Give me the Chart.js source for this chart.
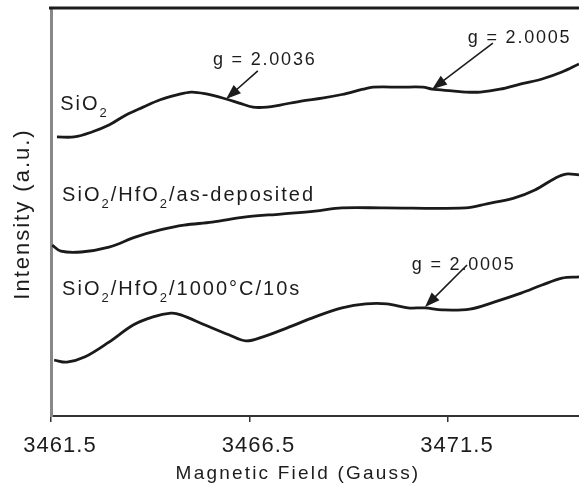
<!DOCTYPE html>
<html>
<head>
<meta charset="utf-8">
<script src="https://cdn.jsdelivr.net/npm/chart.js@4.4.1/dist/chart.umd.min.js"></script>
<style>
  html, body { margin: 0; padding: 0; background: #fff; }
</style>
</head>
<body>
<canvas id="esr" width="579" height="489"></canvas>
<script>
// ESR spectra (field in Gauss, intensity in arbitrary units 0-100)
const sio2Field = [3461.65, 3462.08, 3462.53, 3462.96, 3463.39, 3463.82, 3464.25, 3464.67, 3465.03, 3465.38,
  3465.91, 3466.24, 3466.59, 3466.94, 3467.27, 3467.80, 3468.33, 3468.83, 3469.36, 3469.61,
  3470.32, 3470.87, 3471.10, 3471.60, 3471.95, 3472.31, 3472.81, 3473.34, 3473.87, 3474.37, 3474.80];
const sio2Signal = [68.4, 68.4, 69.6, 71.3, 73.8, 75.7, 77.5, 78.7, 79.4, 79.0,
  77.7, 76.7, 75.7, 75.7, 76.2, 77.2, 77.9, 78.8, 80.1, 80.6,
  80.6, 80.6, 80.1, 79.7, 79.4, 79.4, 80.1, 81.4, 82.6, 84.3, 86.3];

const asDepField = [3461.53, 3461.75, 3462.26, 3462.96, 3463.64, 3464.25, 3464.85, 3465.56, 3466.41, 3467.29,
  3468.15, 3468.83, 3469.89, 3471.95, 3472.48, 3473.16, 3473.69, 3474.20, 3474.47, 3474.80];
const asDepSignal = [41.9, 40.4, 40.2, 41.4, 43.9, 45.6, 46.8, 47.5, 48.8, 49.5,
  50.2, 51.0, 51.0, 51.0, 52.0, 53.4, 55.4, 58.3, 59.3, 59.1];

const annealField = [3461.58, 3461.90, 3462.36, 3462.96, 3463.57, 3464.07, 3464.52, 3464.77, 3465.38, 3465.98,
  3466.41, 3466.84, 3467.45, 3468.15, 3468.83, 3469.43, 3469.96, 3470.49, 3470.92, 3471.35,
  3472.05, 3472.66, 3473.34, 3473.87, 3474.37, 3474.80];
const annealSignal = [13.7, 13.2, 14.5, 18.1, 22.3, 24.3, 25.2, 24.8, 22.3, 19.9,
  18.4, 19.4, 21.6, 24.3, 26.5, 27.5, 27.5, 26.5, 26.5, 26.0,
  26.2, 27.9, 30.1, 32.1, 33.8, 34.1];

const xTicks = [3461.5, 3466.5, 3471.5];

// curve names ('_' = next char is a subscript) and where they sit, in data units
const curveNames = ['SiO_2', 'SiO_2/HfO_2/as-deposited', 'SiO_2/HfO_2/1000°C/10s'];
const curveNameAt = [[3461.73, 75.0], [3461.78, 52.7], [3461.78, 29.7]];

// g-factor callouts
const gNotes = ['g = 2.0036', 'g = 2.0005', 'g = 2.0005'];
const gNoteAt = [[3465.58, 86.0], [3472.00, 91.4], [3470.59, 35.8]];
const arrowFrom = [[3466.71, 84.6], [3472.63, 91.4], [3471.98, 37.0]];
const arrowTo = [[3465.91, 77.7], [3471.10, 80.1], [3470.92, 26.7]];

const FONT = '"Liberation Sans", Arial, sans-serif';

function toPoints(xs, ys) {
  return xs.map((x, i) => ({ x, y: ys[i] }));
}

function drawRich(ctx, text, px, py, size, spacing) {
  let cx = px;
  ctx.letterSpacing = '0px';
  for (let i = 0; i < text.length; i++) {
    let ch = text[i];
    let sub = false;
    if (ch === '_') { sub = true; ch = text[++i]; }
    const fs = sub ? Math.round(size * 0.66) : size;
    ctx.font = `${fs}px ${FONT}`;
    ctx.fillText(ch, cx, sub ? py + 7 : py);
    cx += ctx.measureText(ch).width + spacing;
  }
}

function drawArrow(ctx, x1, y1, x2, y2) {
  const ang = Math.atan2(y2 - y1, x2 - x1);
  const head = 15, half = 5.5;
  const c = Math.cos(ang), s = Math.sin(ang);
  ctx.beginPath();
  ctx.moveTo(x1, y1);
  ctx.lineTo(x2 - head * c * 0.7, y2 - head * s * 0.7);
  ctx.stroke();
  ctx.beginPath();
  ctx.moveTo(x2, y2);
  ctx.lineTo(x2 - head * c + half * s, y2 - head * s - half * c);
  ctx.lineTo(x2 - head * c - half * s, y2 - head * s + half * c);
  ctx.closePath();
  ctx.fill();
}

const notesPlugin = {
  id: 'esrNotes',
  beforeDraw(chart) {
    chart.ctx.letterSpacing = '1px';
  },
  afterDraw(chart) {
    const { ctx, chartArea, scales: { x, y } } = chart;
    ctx.save();
    ctx.fillStyle = '#1c1c1c';
    ctx.strokeStyle = '#1c1c1c';
    ctx.textBaseline = 'alphabetic';
    ctx.textAlign = 'left';

    // top frame line
    ctx.lineWidth = 3;
    ctx.beginPath();
    ctx.moveTo(chartArea.left - 2, chartArea.top);
    ctx.lineTo(chartArea.right, chartArea.top);
    ctx.stroke();

    curveNames.forEach((name, i) => {
      drawRich(ctx, name, x.getPixelForValue(curveNameAt[i][0]), y.getPixelForValue(curveNameAt[i][1]), 20, 2);
    });

    gNotes.forEach((txt, i) => {
      drawRich(ctx, txt, x.getPixelForValue(gNoteAt[i][0]), y.getPixelForValue(gNoteAt[i][1]), 18, 1.8);
      ctx.lineWidth = 1.6;
      drawArrow(ctx,
        x.getPixelForValue(arrowFrom[i][0]), y.getPixelForValue(arrowFrom[i][1]),
        x.getPixelForValue(arrowTo[i][0]), y.getPixelForValue(arrowTo[i][1]));
    });

    // axis titles; the x one sits a bit left of the plot centre in the original
    ctx.textAlign = 'center';
    ctx.font = `19px ${FONT}`;
    ctx.letterSpacing = '2.2px';
    ctx.fillText('Magnetic Field (Gauss)', (chartArea.left + chartArea.right) / 2 - 17, chartArea.bottom + 63);

    ctx.font = `22px ${FONT}`;
    ctx.letterSpacing = '2px';
    ctx.textBaseline = 'middle';
    ctx.translate(chartArea.left - 28, (chartArea.top + chartArea.bottom) / 2 + 2);
    ctx.rotate(-Math.PI / 2);
    ctx.fillText('Intensity (a.u.)', 0, 0);
    ctx.restore();
  }
};

const lineStyle = {
  borderColor: '#1a1a1a',
  borderWidth: 2.8,
  pointRadius: 0,
  tension: 0.35,
  fill: false
};

new Chart(document.getElementById('esr'), {
  type: 'line',
  data: {
    datasets: [
      { label: 'SiO2', data: toPoints(sio2Field, sio2Signal), ...lineStyle },
      { label: 'SiO2/HfO2/as-deposited', data: toPoints(asDepField, asDepSignal), ...lineStyle },
      { label: 'SiO2/HfO2/1000C/10s', data: toPoints(annealField, annealSignal), ...lineStyle }
    ]
  },
  options: {
    responsive: false,
    animation: false,
    layout: { padding: { top: 8, right: 0, left: 0, bottom: 0 } },
    plugins: { legend: { display: false }, tooltip: { enabled: false } },
    scales: {
      x: {
        type: 'linear',
        min: 3461.5,
        max: 3474.8,
        afterBuildTicks: (scale) => { scale.ticks = xTicks.map(v => ({ value: v })); },
        afterFit: (scale) => { scale.height = 73; },
        ticks: {
          color: '#1c1c1c',
          padding: 11,
          labelOffset: 9,
          maxRotation: 0,
          font: { size: 22, family: FONT },
          callback: (v) => Number(v).toFixed(1)
        },
        grid: { display: true, drawOnChartArea: false, tickLength: 6, color: '#333', lineWidth: 1.5 },
        border: { display: true, color: '#333', width: 2 }
      },
      y: {
        min: 0,
        max: 100,
        afterFit: (scale) => { scale.width = 51; },
        ticks: { display: false },
        grid: { display: false },
        border: { display: true, color: '#888', width: 3 }
      }
    }
  },
  plugins: [notesPlugin]
});
</script>
</body>
</html>
